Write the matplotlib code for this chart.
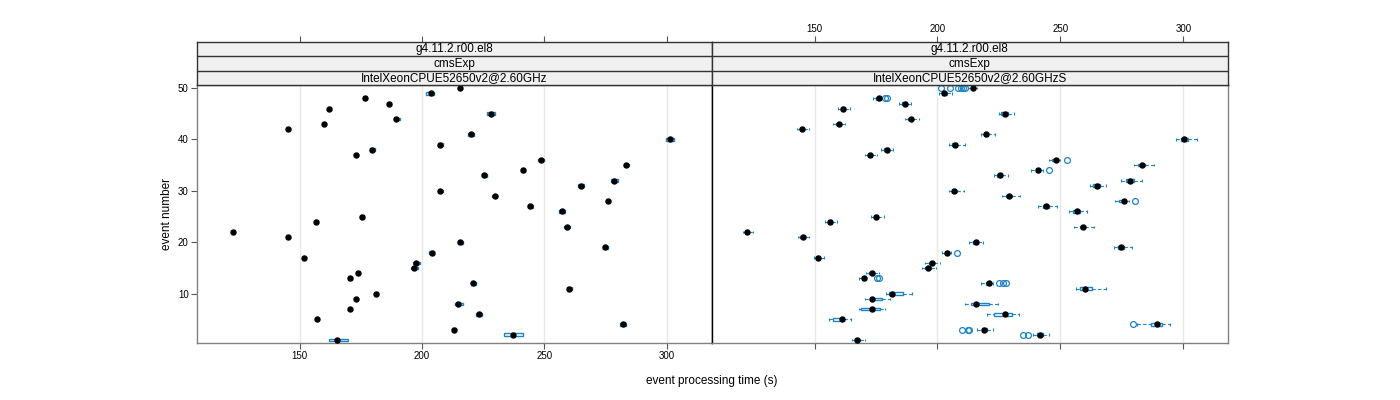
import matplotlib
matplotlib.use("Agg")
import matplotlib.pyplot as plt

plt.rcParams["font.family"] = ["Liberation Sans", "DejaVu Sans"]

# ---------------------------------------------------------------------------
# Data (event 1..50)
# ---------------------------------------------------------------------------
events = list(range(1, 51))

strip_labels = ["g4.11.2.r00.el8", "cmsExp"]
panel_names = ["IntelXeonCPUE52650v2@2.60GHz", "IntelXeonCPUE52650v2@2.60GHzS"]
xticks = [150, 200, 250, 300]
yticks = [10, 20, 30, 40, 50]

# left panel: median, lower / upper hinge
left_med = [165.4, 237.1, 213.0, 282.0, 157.2, 223.1, 170.4, 214.6, 172.9, 181.3,
            260.2, 220.9, 170.4, 173.8, 196.7, 197.6, 151.8, 204.0, 274.9, 215.7,
            145.4, 122.8, 259.3, 156.8, 175.4, 257.1, 244.2, 275.9, 229.6, 207.5,
            265.0, 278.5, 225.5, 241.2, 283.4, 248.5, 172.9, 179.7, 207.5, 301.1,
            220.1, 145.4, 159.8, 189.5, 228.0, 162.2, 186.7, 176.5, 203.5, 215.3]
left_q1 = [162.0, 233.6, 212.2, 280.8, 156.8, 222.0, 169.6, 213.3, 172.1, 180.6,
           259.0, 219.9, 169.6, 172.9, 195.4, 196.3, 151.4, 203.0, 273.8, 214.8,
           145.0, 122.5, 258.0, 156.1, 174.6, 256.0, 243.1, 275.0, 228.5, 206.5,
           263.8, 277.0, 224.5, 240.3, 282.3, 247.4, 172.2, 178.8, 206.4, 299.6,
           218.9, 145.0, 159.4, 188.4, 226.4, 161.8, 186.0, 175.8, 201.6, 214.7]
left_q3 = [169.7, 241.2, 214.0, 283.3, 157.7, 224.3, 171.2, 216.6, 173.8, 182.1,
           261.4, 222.0, 171.3, 174.8, 198.2, 199.1, 152.3, 205.0, 276.1, 216.7,
           145.9, 123.2, 260.6, 157.5, 176.3, 258.3, 245.3, 276.9, 230.8, 208.6,
           266.3, 280.0, 226.6, 242.2, 284.6, 249.6, 173.7, 180.6, 208.7, 302.8,
           221.4, 145.9, 160.3, 190.8, 229.8, 162.7, 187.5, 177.3, 204.9, 216.0]

# right panel: median, hinges, whisker ends, outliers
right_med = [167.4, 241.8, 219.0, 289.3, 161.1, 227.5, 173.5, 215.5, 173.4, 181.5,
             260.1, 220.8, 170.1, 173.4, 196.2, 197.6, 151.4, 204.0, 274.8, 215.5,
             145.2, 122.5, 259.2, 156.5, 175.1, 256.7, 244.1, 275.7, 229.3, 206.8,
             264.9, 278.5, 225.4, 241.1, 283.2, 248.2, 172.6, 179.4, 207.1, 300.5,
             219.7, 144.8, 159.9, 189.2, 227.4, 161.7, 186.7, 176.1, 202.7, 214.3]
right_q1 = [166.5, 240.5, 218.0, 286.9, 157.5, 223.0, 169.0, 213.5, 172.4, 180.2,
            258.1, 219.8, 169.3, 172.3, 195.0, 196.5, 150.5, 203.0, 273.5, 214.5,
            144.3, 121.8, 257.8, 155.5, 174.0, 255.3, 242.8, 274.0, 228.0, 205.8,
            263.3, 276.8, 224.3, 240.0, 281.5, 246.8, 171.6, 178.3, 206.0, 299.0,
            218.8, 143.9, 158.8, 188.0, 226.0, 160.7, 185.7, 175.0, 201.7, 213.6]
right_q3 = [168.5, 242.8, 220.0, 291.4, 162.2, 230.3, 176.5, 220.8, 177.6, 185.8,
            262.8, 221.8, 170.8, 174.4, 197.2, 198.8, 152.2, 204.8, 276.0, 216.5,
            146.2, 123.3, 260.2, 157.3, 176.0, 257.8, 245.3, 276.5, 230.5, 207.8,
            266.0, 279.8, 226.4, 241.8, 284.5, 249.0, 173.5, 180.3, 208.1, 302.0,
            220.7, 145.7, 160.6, 190.2, 228.6, 162.6, 187.6, 176.8, 203.7, 215.0]
right_wlo = [165.4, 239.0, 215.9, 281.2, 155.7, 220.3, 168.1, 211.2, 170.5, 179.2,
             256.4, 217.9, 168.1, 170.8, 193.8, 194.9, 149.7, 201.7, 271.7, 212.9,
             143.2, 120.8, 255.6, 154.4, 172.8, 253.7, 241.1, 272.3, 226.3, 204.6,
             261.9, 274.7, 223.1, 238.1, 279.8, 245.2, 170.5, 176.9, 204.8, 297.2,
             217.6, 142.8, 157.7, 186.7, 224.9, 159.7, 184.4, 173.8, 200.7, 212.4]
right_whi = [170.4, 245.2, 222.5, 294.8, 165.0, 233.3, 178.8, 224.8, 180.6, 189.7,
             268.7, 222.7, 171.1, 176.2, 199.3, 201.0, 153.8, 205.7, 279.1, 218.7,
             147.7, 124.9, 263.5, 159.1, 178.3, 260.8, 248.6, 277.8, 233.6, 210.8,
             268.7, 283.2, 228.8, 243.1, 288.0, 249.9, 175.6, 181.9, 211.2, 305.7,
             223.4, 147.6, 162.5, 192.6, 231.2, 164.5, 189.3, 177.2, 206.1, 215.9]
right_outliers = {
    2: [235.0, 236.7],
    3: [210.2, 212.3, 212.9],
    4: [279.6],
    12: [225.2, 226.5, 227.9],
    13: [175.3, 176.3],
    18: [207.8],
    28: [280.5],
    34: [245.2],
    36: [252.6],
    48: [178.8, 179.6],
    50: [201.6, 205.1, 208.5, 209.6, 210.5, 211.2],
}

# ---------------------------------------------------------------------------
# Style
# ---------------------------------------------------------------------------
BLUE = "#1f84c6"
GRID = "#e8e8e8"
FRAME = "#808080"
STRIP_BG = "#f0f0f0"
XLIM = (108.1, 318.2)
YLIM = (0.4, 50.6)
BOX_H = 0.5
CAP_H = 0.5


def draw_panel(ax, med, q1, q3, wlo=None, whi=None, outliers=None):
    for x in xticks:
        ax.axvline(x, color=GRID, lw=1, zorder=0)
    if wlo is not None:
        ax.hlines(events, wlo, q1, colors=BLUE, linestyles=(0, (3, 2)), lw=0.8, zorder=2)
        ax.hlines(events, q3, whi, colors=BLUE, linestyles=(0, (3, 2)), lw=0.8, zorder=2)
        ax.vlines(wlo, [e - CAP_H / 2 for e in events], [e + CAP_H / 2 for e in events],
                  colors=BLUE, lw=0.8, zorder=2)
        ax.vlines(whi, [e - CAP_H / 2 for e in events], [e + CAP_H / 2 for e in events],
                  colors=BLUE, lw=0.8, zorder=2)
    widths = [b - a for a, b in zip(q1, q3)]
    ax.barh(events, widths, left=q1, height=BOX_H, fill=False,
            edgecolor=BLUE, lw=1.0, zorder=3)
    if outliers:
        for ev, vals in outliers.items():
            ax.plot(vals, [ev] * len(vals), "o", ms=4.2, mfc="none", mec=BLUE,
                    mew=0.9, zorder=3)
    ax.plot(med, events, "o", color="black", ms=3.6, zorder=4)
    ax.set_xlim(*XLIM)
    ax.set_ylim(*YLIM)
    ax.set_xticks(xticks)
    for sp in ax.spines.values():
        sp.set_color(FRAME)
        sp.set_linewidth(1)
    ax.tick_params(direction="out", length=4, width=0.8, color="#555555",
                   labelsize=7, pad=2)


def draw_strip(ax, name, top_labels):
    ax.set_facecolor(STRIP_BG)
    ax.set_xlim(*XLIM)
    ax.set_ylim(0, 3)
    texts = [name] + strip_labels[::-1]
    for i, t in enumerate(texts):
        ax.text(0.5, (i + 0.5) / 3, t, transform=ax.transAxes, ha="center",
                va="center", fontsize=8.5)
    for yy in (1, 2):
        ax.axhline(yy, color="#333333", lw=1)
    for sp in ax.spines.values():
        sp.set_color("#333333")
        sp.set_linewidth(1)
    ax.set_yticks([])
    ax.set_xticks(xticks)
    ax.xaxis.set_ticks_position("top")
    ax.tick_params(direction="out", length=4, width=0.8, color="#555555",
                   labelsize=7, pad=2, labeltop=top_labels, labelbottom=False)


fig = plt.figure(figsize=(14, 4), dpi=100)
W, H = 1400.0, 400.0
px_left, px_mid, px_right = 197, 711.5, 1228
px_ptop, px_pbot, px_stop = 85, 343, 42

ax1 = fig.add_axes([px_left / W, 1 - px_pbot / H, (px_mid - px_left) / W, (px_pbot - px_ptop) / H])
ax2 = fig.add_axes([px_mid / W, 1 - px_pbot / H, (px_right - px_mid) / W, (px_pbot - px_ptop) / H])
s1 = fig.add_axes([px_left / W, 1 - px_ptop / H, (px_mid - px_left) / W, (px_ptop - px_stop) / H])
s2 = fig.add_axes([px_mid / W, 1 - px_ptop / H, (px_right - px_mid) / W, (px_ptop - px_stop) / H])

draw_panel(ax1, left_med, left_q1, left_q3)
draw_panel(ax2, right_med, right_q1, right_q3, right_wlo, right_whi, right_outliers)

ax1.set_yticks(yticks)
ax1.tick_params(axis="y", left=True, labelleft=True)
ax2.set_yticks([])
ax2.tick_params(axis="x", labelbottom=False)
ax1.spines["right"].set_color("black")
ax2.spines["left"].set_color("black")

draw_strip(s1, panel_names[0], False)
draw_strip(s2, panel_names[1], True)

fig.text(712 / W, 1 - 381 / H, "event processing time (s)", ha="center", va="center", fontsize=8.5)
fig.text(167 / W, 1 - 214 / H, "event number", ha="center", va="center", rotation=90, fontsize=8.5)

fig.savefig("out.png", dpi=100)
